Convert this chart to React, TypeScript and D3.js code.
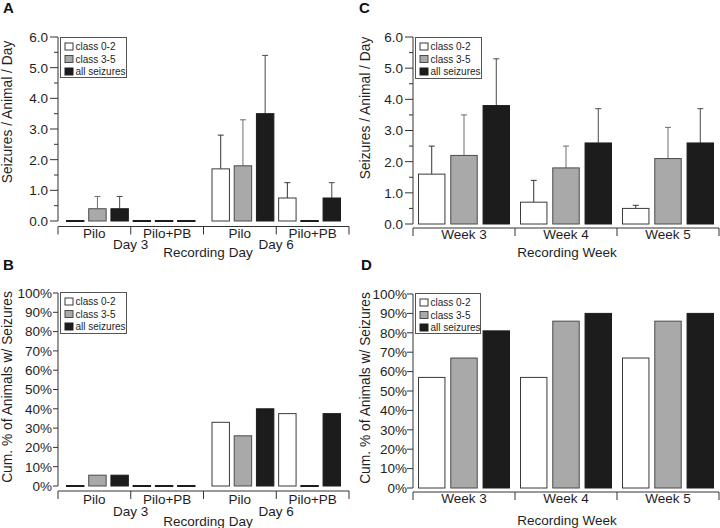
import React from "react";
import * as d3 from "d3";

// ---------- data ----------
const seriesNames = ["class 0-2", "class 3-5", "all seizures"];
const days = ["Day 3", "Day 6"];
const treatments = ["Pilo", "Pilo+PB"];
const weeks = ["Week 3", "Week 4", "Week 5"];

// Panel A: seizures / animal / day (order: Day3 Pilo, Day3 Pilo+PB, Day6 Pilo, Day6 Pilo+PB)
const rateDayClass02 = [0, 0, 1.7, 0.75];
const rateDayClass35 = [0.4, 0, 1.8, 0];
const rateDayAll = [0.4, 0, 3.5, 0.75];
const errDayClass02 = [0, 0, 1.1, 0.5];
const errDayClass35 = [0.4, 0, 1.5, 0];
const errDayAll = [0.4, 0, 1.9, 0.5];

// Panel B: cumulative % animals with seizures
const cumDayClass02 = [0, 0, 33, 37.5];
const cumDayClass35 = [5.6, 0, 26, 0];
const cumDayAll = [5.6, 0, 40, 37.5];

// Panel C: seizures / animal / day by week
const rateWeekClass02 = [1.6, 0.7, 0.5];
const rateWeekClass35 = [2.2, 1.8, 2.1];
const rateWeekAll = [3.8, 2.6, 2.6];
const errWeekClass02 = [0.9, 0.7, 0.1];
const errWeekClass35 = [1.3, 0.7, 1.0];
const errWeekAll = [1.5, 1.1, 1.1];

// Panel D: cumulative % by week
const cumWeekClass02 = [57, 57, 67];
const cumWeekClass35 = [67, 86, 86];
const cumWeekAll = [81, 90, 90];

const rateTicks = [0, 1, 2, 3, 4, 5, 6];
const rateMinorTicks = [0.5, 1.5, 2.5, 3.5, 4.5, 5.5];
const pctTicks = [0, 10, 20, 30, 40, 50, 60, 70, 80, 90, 100];

// ---------- style ----------
const FONT = "'Liberation Sans', Arial, Helvetica, sans-serif";
const fills = ["#ffffff", "#a9a9a9", "#1c1c1c"];
const strokes = ["#3a3a3a", "#4a4a4a", "#1c1c1c"];
const errColors = ["#333333", "#6e6e6e", "#4a4a4a"];
const TXT = "#1e1e1e";
const AX = "#333333";

type Bar = { x: number; w: number; v: number; e?: number; s: number };

function Legend({ x, y, w, h }: { x: number; y: number; w: number; h: number }) {
  return (
    <g>
      <rect x={x} y={y} width={w} height={h} fill="#fff" stroke="#555" strokeWidth={1} />
      {seriesNames.map((n, i) => (
        <g key={n}>
          <rect x={x + 4.5} y={y + 5.5 + i * 12.5} width={8} height={7} fill={fills[i]} stroke={strokes[i]} strokeWidth={1} />
          <text x={x + 15} y={y + 12.5 + i * 12.5} fontSize={10} fill={TXT} fontFamily={FONT}>
            {n}
          </text>
        </g>
      ))}
    </g>
  );
}

type PanelProps = {
  label: string;
  labelX: number;
  labelY: number;
  axisX: number;
  axisRight: number;
  y: d3.ScaleLinear<number, number>;
  ticks: number[];
  minor: number[];
  fmt: (v: number) => string;
  tickLen: number;
  labelGap: number;
  xAxisY: number;
  bars: Bar[];
  boundaries: number[];
  catLabels: { x: number; y: number; t: string }[];
  title: { x: number; y: number; t: string };
  yTitle: { x: number; y: number; t: string };
  legend: { x: number; y: number; w: number; h: number };
};

function Panel(p: PanelProps) {
  const [y0] = p.y.range();
  const yTop = p.y(p.y.domain()[1]);
  return (
    <g>
      <text x={p.labelX} y={p.labelY} fontSize={15} fontWeight="bold" fill="#111" fontFamily={FONT}>
        {p.label}
      </text>
      {/* bars */}
      {p.bars.map((b, i) => {
        if (b.v === 0) {
          return <rect key={i} x={b.x} y={y0 - 1} width={b.w} height={2} fill="#1c1c1c" />;
        }
        const top = p.y(b.v);
        return (
          <g key={i}>
            {b.e ? (
              <g stroke={errColors[b.s]} strokeWidth={1}>
                <line x1={b.x + b.w / 2} x2={b.x + b.w / 2} y1={top} y2={p.y(b.v + b.e)} />
                <line x1={b.x + b.w / 2 - 3} x2={b.x + b.w / 2 + 3} y1={p.y(b.v + b.e)} y2={p.y(b.v + b.e)} />
              </g>
            ) : null}
            <rect x={b.x + 0.5} y={top} width={b.w - 1} height={y0 - top} fill={fills[b.s]} stroke={strokes[b.s]} strokeWidth={1} />
          </g>
        );
      })}
      {/* y axis */}
      <line x1={p.axisX} x2={p.axisX} y1={y0} y2={yTop} stroke={AX} strokeWidth={1} />
      {p.ticks.map((t) => (
        <g key={"t" + t}>
          <line x1={p.axisX - p.tickLen} x2={p.axisX} y1={p.y(t)} y2={p.y(t)} stroke={AX} strokeWidth={1} />
          <text x={p.axisX - p.labelGap} y={p.y(t)} dy="0.36em" textAnchor="end" fontSize={13.5} fill={TXT} fontFamily={FONT}>
            {p.fmt(t)}
          </text>
        </g>
      ))}
      {p.minor.map((t) => (
        <line key={"m" + t} x1={p.axisX - 4} x2={p.axisX} y1={p.y(t)} y2={p.y(t)} stroke={AX} strokeWidth={1} />
      ))}
      {/* x axis */}
      <line x1={p.axisX} x2={p.axisRight} y1={p.xAxisY} y2={p.xAxisY} stroke={AX} strokeWidth={1} />
      {p.boundaries.map((bx, i) => (
        <line key={"b" + i} x1={bx} x2={bx} y1={p.xAxisY} y2={p.xAxisY + 8} stroke={AX} strokeWidth={1} />
      ))}
      {p.catLabels.map((c, i) => (
        <text key={"c" + i} x={c.x} y={c.y} textAnchor="middle" fontSize={13.5} fill={TXT} fontFamily={FONT}>
          {c.t}
        </text>
      ))}
      <text x={p.title.x} y={p.title.y} textAnchor="middle" fontSize={13.5} fill={TXT} fontFamily={FONT}>
        {p.title.t}
      </text>
      <text
        transform={`translate(${p.yTitle.x},${p.yTitle.y}) rotate(-90)`}
        textAnchor="middle"
        fontSize={13.8}
        fill={TXT}
        fontFamily={FONT}
      >
        {p.yTitle.t}
      </text>
      <Legend {...p.legend} />
    </g>
  );
}

function dayBars(series: number[][], errs: number[][] | null, left: number, right: number) {
  const dayScale = d3.scaleBand<string>().domain(days).range([left, right]).paddingInner(0);
  const bw = dayScale.bandwidth();
  const inner = d3.scaleBand<number>().domain(d3.range(6)).range([8, bw - 8]).paddingInner(0.17);
  const bars: Bar[] = [];
  days.forEach((d, di) => {
    treatments.forEach((_, ti) => {
      series.forEach((s, si) => {
        const idx = di * 2 + ti;
        bars.push({
          x: (dayScale(d) as number) + (inner(ti * 3 + si) as number),
          w: inner.bandwidth(),
          v: s[idx],
          e: errs ? errs[si][idx] : 0,
          s: si,
        });
      });
    });
  });
  const boundaries: number[] = [];
  days.forEach((d) => {
    const x0 = dayScale(d) as number;
    boundaries.push(x0, x0 + bw / 2);
  });
  boundaries.push(right);
  const trtLabels = (yy: number) =>
    days.flatMap((d) =>
      treatments.map((t, ti) => ({ x: (dayScale(d) as number) + bw / 4 + (ti * bw) / 2, y: yy, t }))
    );
  const dayLabels = (yy: number) => days.map((d) => ({ x: (dayScale(d) as number) + bw / 2, y: yy, t: d }));
  return { bars, boundaries, trtLabels, dayLabels };
}

function weekBars(series: number[][], errs: number[][] | null, left: number, right: number) {
  const wk = d3.scaleBand<string>().domain(weeks).range([left, right]).paddingInner(0);
  const bw = wk.bandwidth();
  const inner = d3.scaleBand<number>().domain(d3.range(3)).range([5, bw - 5]).paddingInner(0.15);
  const bars: Bar[] = [];
  weeks.forEach((w, wi) => {
    series.forEach((s, si) => {
      bars.push({
        x: (wk(w) as number) + (inner(si) as number),
        w: inner.bandwidth(),
        v: s[wi],
        e: errs ? errs[si][wi] : 0,
        s: si,
      });
    });
  });
  const boundaries = [...weeks.map((w) => wk(w) as number), right];
  const labels = (yy: number) => weeks.map((w) => ({ x: (wk(w) as number) + bw / 2, y: yy, t: w }));
  return { bars, boundaries, labels };
}

export default function App() {
  const fmtRate = d3.format(".1f");
  const fmtPct = (v: number) => `${v}%`;

  const yA = d3.scaleLinear().domain([0, 6]).range([221, 37]);
  const yC = d3.scaleLinear().domain([0, 6]).range([224, 37]);
  const yB = d3.scaleLinear().domain([0, 100]).range([486, 293]);
  const yD = d3.scaleLinear().domain([0, 100]).range([488, 294]);

  const A = dayBars(
    [rateDayClass02, rateDayClass35, rateDayAll],
    [errDayClass02, errDayClass35, errDayAll],
    58,
    349
  );
  const B = dayBars([cumDayClass02, cumDayClass35, cumDayAll], null, 58, 349);
  const C = weekBars(
    [rateWeekClass02, rateWeekClass35, rateWeekAll],
    [errWeekClass02, errWeekClass35, errWeekAll],
    413,
    719
  );
  const D = weekBars([cumWeekClass02, cumWeekClass35, cumWeekAll], null, 413, 719);

  return (
    <svg width={720} height={528} style={{ position: "absolute", left: 0, top: 0, background: "#fff" }}>
      <rect width={720} height={528} fill="#fff" />
      <Panel
        label="A"
        labelX={3}
        labelY={13}
        axisX={58}
        axisRight={349}
        y={yA}
        ticks={rateTicks}
        minor={rateMinorTicks}
        fmt={fmtRate}
        tickLen={8}
        labelGap={10}
        xAxisY={226.5}
        bars={A.bars}
        boundaries={A.boundaries}
        catLabels={[...A.trtLabels(238), ...A.dayLabels(249)]}
        title={{ x: 208, y: 257, t: "Recording Day" }}
        yTitle={{ x: 12, y: 112, t: "Seizures / Animal / Day" }}
        legend={{ x: 60.5, y: 37.5, w: 66, h: 40 }}
      />
      <Panel
        label="B"
        labelX={3}
        labelY={270}
        axisX={58}
        axisRight={349}
        y={yB}
        ticks={pctTicks}
        minor={[]}
        fmt={fmtPct}
        tickLen={5}
        labelGap={6}
        xAxisY={491}
        bars={B.bars}
        boundaries={B.boundaries}
        catLabels={[...B.trtLabels(504), ...B.dayLabels(516)]}
        title={{ x: 208, y: 526, t: "Recording Day" }}
        yTitle={{ x: 12, y: 387, t: "Cum. % of Animals w/ Seizures" }}
        legend={{ x: 60.5, y: 292.5, w: 66, h: 41 }}
      />
      <Panel
        label="C"
        labelX={359}
        labelY={13}
        axisX={413}
        axisRight={719}
        y={yC}
        ticks={rateTicks}
        minor={rateMinorTicks}
        fmt={fmtRate}
        tickLen={8}
        labelGap={10}
        xAxisY={228}
        bars={C.bars}
        boundaries={C.boundaries}
        catLabels={C.labels(239)}
        title={{ x: 567, y: 257, t: "Recording Week" }}
        yTitle={{ x: 370, y: 108, t: "Seizures / Animal / Day" }}
        legend={{ x: 415.5, y: 37.5, w: 66, h: 41 }}
      />
      <Panel
        label="D"
        labelX={361}
        labelY={270}
        axisX={413}
        axisRight={719}
        y={yD}
        ticks={pctTicks}
        minor={[]}
        fmt={fmtPct}
        tickLen={6}
        labelGap={6}
        xAxisY={492}
        bars={D.bars}
        boundaries={D.boundaries}
        catLabels={D.labels(503)}
        title={{ x: 567, y: 525, t: "Recording Week" }}
        yTitle={{ x: 370, y: 388, t: "Cum. % of Animals w/ Seizures" }}
        legend={{ x: 415.5, y: 293.5, w: 65, h: 40 }}
      />
    </svg>
  );
}
